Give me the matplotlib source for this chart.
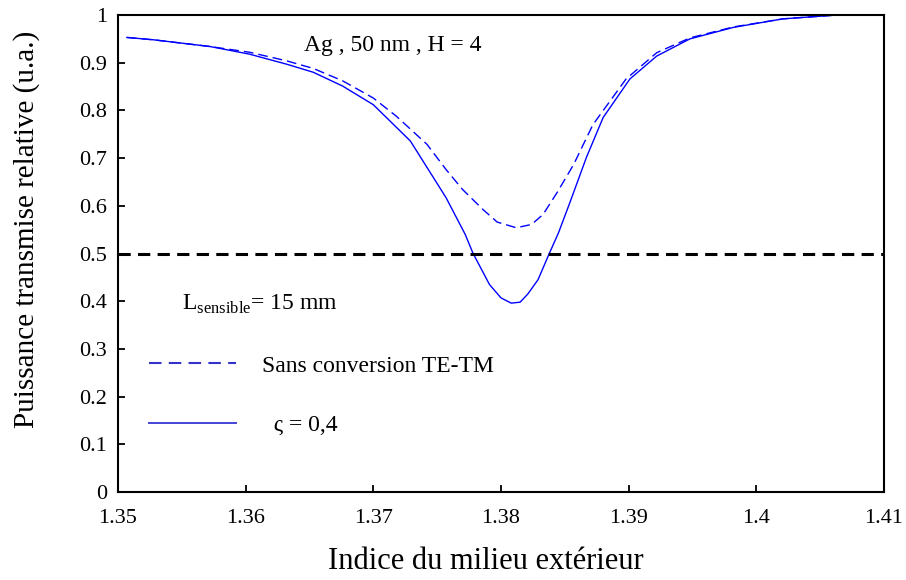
import matplotlib
matplotlib.use("Agg")
from matplotlib import pyplot as plt

plt.rcParams['font.family'] = ['Liberation Serif', 'DejaVu Serif']
plt.rcParams['mathtext.fontset'] = 'custom'
plt.rcParams['mathtext.rm'] = 'Liberation Serif'

# solid curve : zeta = 0,4
x_zeta = [1.3507, 1.3528, 1.3572, 1.3603, 1.3632, 1.3653, 1.3676, 1.3700, 1.3729,
          1.3757, 1.3772, 1.3778, 1.3791, 1.3800, 1.3808, 1.3815, 1.3821, 1.3829,
          1.3838, 1.3845, 1.3854, 1.3867, 1.3880, 1.3901, 1.3922, 1.3948, 1.3982,
          1.4021, 1.4063]
y_zeta = [0.953, 0.948, 0.934, 0.918, 0.897, 0.880, 0.851, 0.812, 0.736,
          0.617, 0.540, 0.501, 0.435, 0.407, 0.396, 0.398, 0.415, 0.445,
          0.501, 0.543, 0.607, 0.702, 0.785, 0.866, 0.914, 0.950, 0.974,
          0.992, 1.0]

# dashed curve : sans conversion TE-TM
x_sans = [1.3507, 1.3528, 1.3572, 1.3603, 1.3632, 1.3653, 1.3676, 1.3700, 1.3718,
          1.3742, 1.3757, 1.3770, 1.3786, 1.3797, 1.3812, 1.3824, 1.3833, 1.3844,
          1.3857, 1.3872, 1.3898, 1.3922, 1.3948, 1.3982, 1.4021, 1.4063]
y_sans = [0.953, 0.948, 0.934, 0.922, 0.904, 0.888, 0.862, 0.826, 0.788,
          0.729, 0.676, 0.634, 0.592, 0.566, 0.554, 0.561, 0.582, 0.628,
          0.687, 0.770, 0.866, 0.921, 0.952, 0.975, 0.992, 1.0]

half_level = 0.5

xticks = [1.35, 1.36, 1.37, 1.38, 1.39, 1.40, 1.41]
xtick_labels = ["1.35", "1.36", "1.37", "1.38", "1.39", "1.4", "1.41"]
yticks = [0, 0.1, 0.2, 0.3, 0.4, 0.5, 0.6, 0.7, 0.8, 0.9, 1.0]
ytick_labels = ["0", "0.1", "0.2", "0.3", "0.4", "0.5", "0.6", "0.7", "0.8", "0.9", "1"]

fig = plt.figure(figsize=(9.06, 5.8), dpi=100)
ax = fig.add_axes([0.1302, 0.1517, 0.8455, 0.8224])

l1, = ax.plot(x_sans, y_sans, color='#0000ff', lw=1.0, dashes=(7, 3.6),
              label="Sans conversion TE-TM")
l2, = ax.plot(x_zeta, y_zeta, color='#0000ff', lw=1.0, label="  ς = 0,4")
ax.axhline(half_level, color='black', lw=2.2, dashes=(4, 2.4))

ax.set_xlim(1.35, 1.41)
ax.set_ylim(0, 1)
ax.set_xticks(xticks)
ax.set_xticklabels(xtick_labels)
ax.set_yticks(yticks)
ax.set_yticklabels(ytick_labels)
ax.tick_params(direction='in', length=5, width=1.3, labelsize=16)
ax.tick_params(axis='x', pad=12)
ax.tick_params(axis='y', pad=8)
for s in ax.spines.values():
    s.set_linewidth(1.5)

ax.set_xlabel("Indice du milieu extérieur", fontsize=22, va='center')
ax.xaxis.set_label_coords(0.480, -0.145)
ax.set_ylabel("Puissance transmise relative (u.a.)", fontsize=21, va='center')
ax.yaxis.set_label_coords(-0.119, 0.55)

ax.text(1.3646, 0.925, "Ag , 50 nm , H = 4", fontsize=17, va='baseline')
ax.text(1.3550, 0.382, r"L$_{\mathrm{sensible}}$= 15 mm", fontsize=17, va='baseline')

leg = ax.legend(loc='upper left', bbox_to_anchor=(0.040, 0.287), frameon=False,
                fontsize=17, handlelength=3.7, handletextpad=1.1,
                labelspacing=1.6, borderpad=0, borderaxespad=0)
hl = leg.get_lines()
hl[0].set_color('#3333cc')
hl[0].set_linewidth(1.5)
hl[0].set_dashes((6, 3.5))
hl[1].set_color('#4444d4')
hl[1].set_linewidth(1.4)

plt.savefig("out.png", dpi=100)
